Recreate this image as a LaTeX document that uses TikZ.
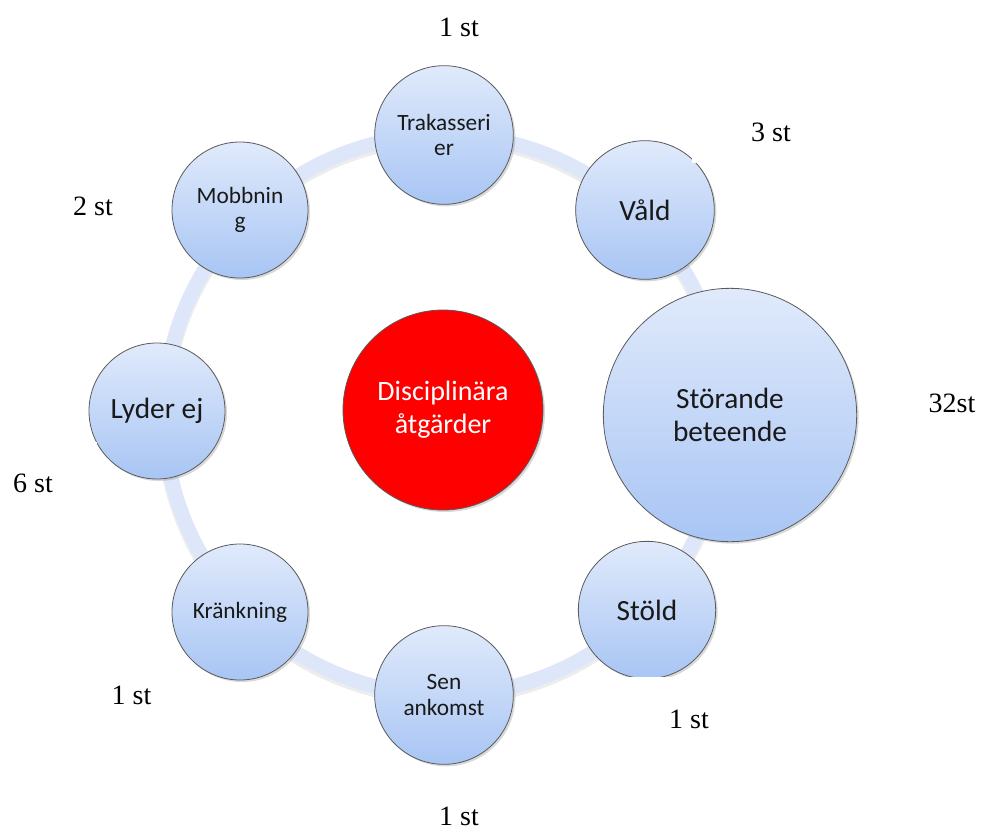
\documentclass[tikz,border=0pt]{standalone}
\usepackage{fontspec}
\setmainfont{Liberation Serif}
\newfontfamily\calib{Carlito}
\usetikzlibrary{shadows}
\definecolor{ringblue}{HTML}{DDE7F9}
\definecolor{topblue}{HTML}{E0EAFB}
\definecolor{botblue}{HTML}{A8C5F4}
\definecolor{edgegray}{HTML}{5A5A5A}
\tikzset{
  bub/.style={circle, draw=edgegray, line width=0.6pt, top color=topblue, bottom color=botblue,
    drop shadow={opacity=0.3, shadow xshift=1.5pt, shadow yshift=-1.5pt},
    text=black!90, align=center, inner sep=0pt, font=\calib\fontsize{17.5}{19}\selectfont},
  bigtxt/.style={font=\calib\fontsize{22}{25}\selectfont},
  core/.style={circle, draw=edgegray, line width=0.6pt, fill=red,
    drop shadow={opacity=0.3, shadow xshift=1.5pt, shadow yshift=-1.5pt},
    text=white, align=center, inner sep=0pt, font=\calib\fontsize{21}{25}\selectfont},
  cnt/.style={font=\fontsize{21}{24}\selectfont, inner sep=0pt},
  cntbox/.style={cnt, fill=white}
}
\begin{document}
\begin{tikzpicture}[x=0.75pt,y=-0.75pt]
\useasboundingbox (0,0) rectangle (981,832);
% ring
\coordinate (ringc) at (444,415);
\draw[black, opacity=0.07, line width=12pt] ([yshift=-2pt]ringc) circle [radius=210pt];
\draw[ringblue, line width=11pt] (ringc) circle [radius=210pt];
% center
\node[core, minimum size=150pt] (center) at (443,410) {Disciplinära\\åtgärder};
% satellites
\node[bub, minimum size=104pt] (trak) at (444,135) {Trakasseri\\er};
\node[bub, bigtxt, minimum size=104pt] (vald) at (645,210) {Våld};
\node[bub, bigtxt, minimum size=190pt] (stor) at (730,415) {Störande\\beteende};
\node[bub, bigtxt, minimum size=103pt] (stold) at (647,610) {Stöld};
\node[bub, minimum size=104pt] (sen) at (444,695) {Sen\\ankomst};
\node[bub, minimum size=102pt] (kran) at (240,612) {Kränkning};
\node[bub, bigtxt, minimum size=102pt] (lyder) at (157,411) {Lyder ej};
\node[bub, minimum size=102pt] (mobb) at (240,210) {Mobbnin\\g};
% counts
\node[cnt] (c1) at (459,27) {1 st};
\node[cntbox, minimum width=118pt, minimum height=46pt] (c2) at (771,132) {3 st};
\node[cnt] (c3) at (93,206) {2 st};
\node[cnt] (c4) at (952,403) {32st};
\node[cntbox, minimum width=96pt, minimum height=61pt] (c5) at (33,483) {6 st};
\node[cntbox, minimum width=83pt, minimum height=60pt] (c6) at (131.5,695) {1 st};
\node[cntbox, minimum width=121pt, minimum height=63pt] (c7) at (689,719) {1 st};
\node[cnt] (c8) at (459,816) {1 st};
\end{tikzpicture}
\end{document}
